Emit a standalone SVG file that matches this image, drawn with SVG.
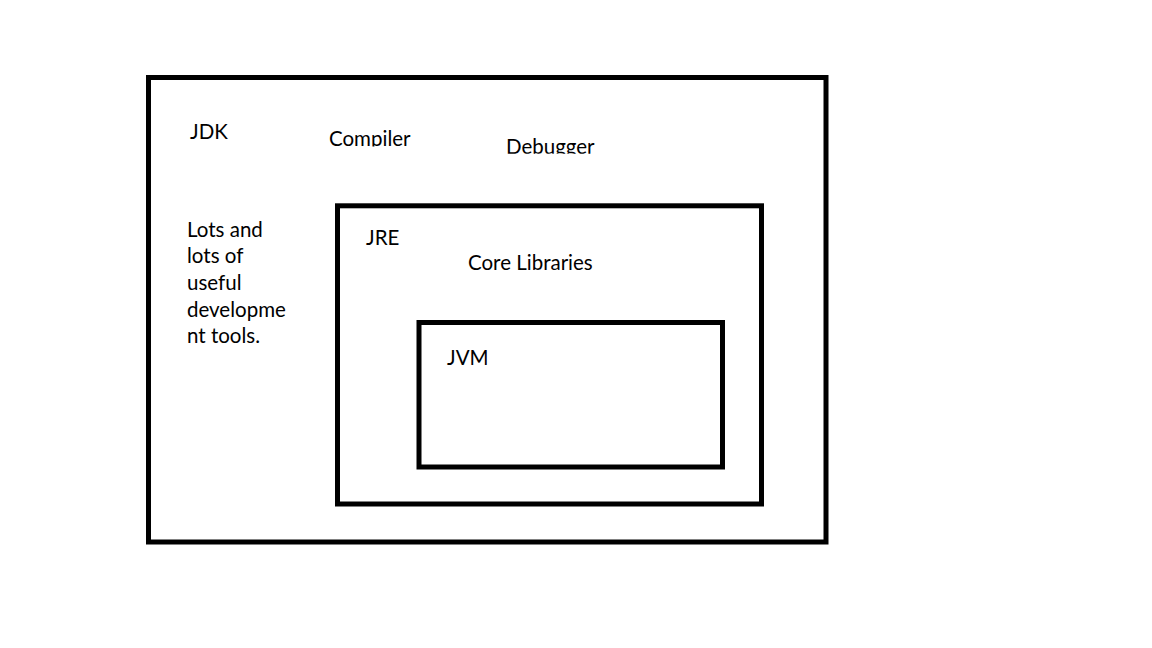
<svg xmlns="http://www.w3.org/2000/svg" width="1152" height="648" viewBox="0 0 1152 648">
<style>
.box{fill:none;stroke:#000;stroke-width:5}
text{font-family:Lato,"Open Sans",sans-serif;font-size:20.5px;fill:#000}
</style>
<defs>
<clipPath id="cc"><rect x="320" y="120" width="110" height="26.5"/></clipPath>
<clipPath id="cd"><rect x="495" y="125" width="110" height="28.8"/></clipPath>
</defs>
<rect width="1152" height="648" fill="#fff"/>
<g id="jdk">
<rect class="box" x="148.5" y="77.5" width="677.5" height="464.5"/>
<text x="190" y="139">JDK</text>
<text x="329" y="146" clip-path="url(#cc)">Compiler</text>
<text x="506" y="153.5" clip-path="url(#cd)">Debugger</text>
<text x="187" y="236.7">Lots and</text>
<text x="187" y="263.3">lots of</text>
<text x="187" y="290">useful</text>
<text x="187" y="316.7">developme</text>
<text x="187" y="343.3">nt tools.</text>
</g>
<g id="jre">
<rect class="box" x="337.5" y="205.8" width="424" height="298.2"/>
<text x="366" y="245">JRE</text>
<text x="468" y="270">Core Libraries</text>
</g>
<g id="jvm">
<rect class="box" x="419" y="322.5" width="303.5" height="144.5"/>
<text x="447" y="365">JVM</text>
</g>
<g id="connectors"/>
</svg>
